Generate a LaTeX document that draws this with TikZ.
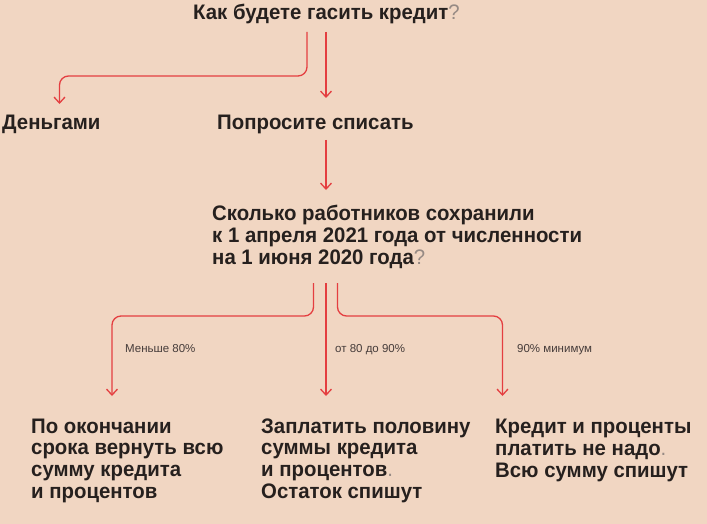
\documentclass[tikz,border=0pt]{standalone}
\usepackage{fontspec}
\setmainfont{Liberation Sans}[FakeStretch=0.97]
\newfontfamily\lblfont{Liberation Sans}
\usetikzlibrary{arrows.meta}
\definecolor{bg}{RGB}{241,214,194}
\definecolor{ln}{RGB}{228,62,64}
\definecolor{tx}{RGB}{38,32,30}
\definecolor{qm}{RGB}{150,138,132}
\definecolor{lb}{RGB}{70,60,58}
\newcommand{\qmk}{{\mdseries\color{qm}?}}
\newcommand{\dotk}{{\mdseries\color{qm}.}}
\tikzset{
  big/.style={font=\fontsize{21}{21.6}\selectfont\bfseries, text=tx, inner sep=0pt, anchor=base west, align=left},
  small/.style={font=\lblfont\fontsize{11.5}{12}\selectfont, text=lb, inner sep=0pt, anchor=base west},
  conn/.style={draw=ln, line width=1.3pt, rounded corners=9pt, -{Straight Barb[length=6pt,width=11pt]}},
}
\begin{document}
\begin{tikzpicture}[x=1pt,y=-1pt]
\fill[bg] (0,0) rectangle (707,524);
\useasboundingbox (0,0) rectangle (707,524);

% multi-line nodes: base anchor = baseline of last line
\node[big] (q1) at (193,20) {Как будете гасить кредит\qmk};
\node[big] (dng) at (2,130) {Деньгами};
\node[big] (pop) at (217,130) {Попросите списать};
\node[big] (q2) at (212,264) {Сколько работников сохранили\\к 1 апреля 2021 года от численности\\на 1 июня 2020 года\qmk};
\node[big] (b1) at (31,498) {По окончании\\срока вернуть всю\\сумму кредита\\и процентов};
\node[big] (b2) at (261,498) {Заплатить половину\\суммы кредита\\и процентов\dotk\\Остаток спишут};
\node[big] (b3) at (495,477) {Кредит и проценты\\платить не надо\dotk\\Всю сумму спишут};

\node[small] (l1) at (125,352) {Меньше 80\%};
\node[small] (l2) at (335,352) {от 80 до 90\%};
\node[small] (l3) at (517,352) {90\% минимум};

\coordinate (s1) at (307,32);
\coordinate (e1) at (59.5,104);
\coordinate (s2) at (326,32);
\coordinate (e2) at (326,98);
\coordinate (s3) at (326,140);
\coordinate (e3) at (326,190);
\coordinate (s4) at (313.5,283);
\coordinate (e4) at (112,396);
\coordinate (s5) at (326,283);
\coordinate (e5) at (326,396);
\coordinate (s6) at (337.5,283);
\coordinate (e6) at (502.5,396);

\draw[conn] (s1) -- ++(0,44) -| (e1);
\draw[conn] (s2) -- (e2);
\draw[conn] (s3) -- (e3);
\draw[conn] (s4) -- ++(0,33) -| (e4);
\draw[conn] (s5) -- (e5);
\draw[conn] (s6) -- ++(0,33) -| (e6);
\end{tikzpicture}
\end{document}
